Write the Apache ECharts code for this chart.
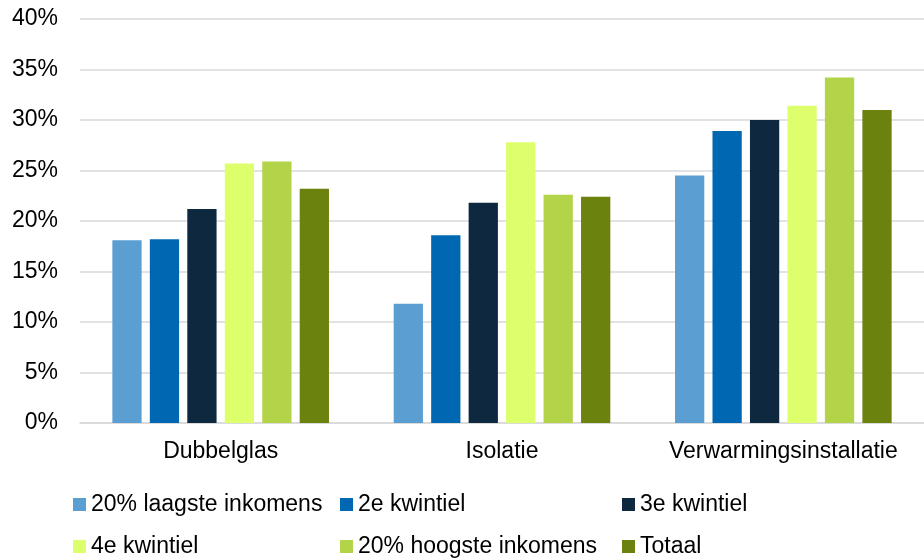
<!DOCTYPE html>
<html>
<head>
<meta charset="utf-8">
<script src="https://cdn.jsdelivr.net/npm/echarts@6/dist/echarts.min.js"></script>
<style>
html,body{margin:0;padding:0;background:#fff;}
#chart{width:924px;height:558px;}
</style>
</head>
<body>
<div id="chart"></div>
<script>
var categories = ['Dubbelglas', 'Isolatie', 'Verwarmingsinstallatie'];
var seriesNames = ['20% laagste inkomens', '2e kwintiel', '3e kwintiel', '4e kwintiel', '20% hoogste inkomens', 'Totaal'];
var laagste = [18.1, 11.8, 24.5];
var kwintiel2 = [18.2, 18.6, 28.9];
var kwintiel3 = [21.2, 21.8, 30.0];
var kwintiel4 = [25.7, 27.8, 31.4];
var hoogste = [25.9, 22.6, 34.2];
var totaal = [23.2, 22.4, 31.0];
var yTicks = [0, 5, 10, 15, 20, 25, 30, 35, 40];
var colors = ['#5B9FD2', '#0068B2', '#0E293F', '#DDFF6B', '#B3D349', '#6B820F'];

var values = [laagste, kwintiel2, kwintiel3, kwintiel4, hoogste, totaal];
var font = 'Liberation Sans, Arial, sans-serif';
var fs = 23;
var chart = echarts.init(document.getElementById('chart'));

function legendCol(left, names) {
  return {
    orient: 'vertical', left: left, top: 493,
    itemWidth: 13, itemHeight: 13, itemGap: 19, itemTextGap: 4,
    icon: 'rect', padding: 0,
    data: names,
    textStyle: { fontFamily: font, fontSize: fs, color: '#000' }
  };
}

chart.setOption({
  animation: false,
  color: colors,
  grid: { left: 80, right: -5, top: 19, bottom: 135 },
  legend: [
    legendCol(73, [seriesNames[0], seriesNames[3]]),
    legendCol(340, [seriesNames[1], seriesNames[4]]),
    legendCol(622, [seriesNames[2], seriesNames[5]])
  ],
  xAxis: {
    type: 'category',
    data: categories,
    axisTick: { show: false },
    axisLine: { lineStyle: { color: '#d9d9d9', width: 1.5 } },
    axisLabel: { fontFamily: font, fontSize: fs, color: '#000', margin: 17, interval: 0 }
  },
  yAxis: {
    type: 'value',
    min: yTicks[0], max: yTicks[yTicks.length - 1], interval: 5,
    axisLine: { show: false },
    axisTick: { show: false },
    splitLine: { lineStyle: { color: '#d9d9d9', width: 1.5 } },
    axisLabel: { fontFamily: font, fontSize: fs, color: '#000', margin: 22,
      formatter: function (v) { return v + '%'; } }
  },
  series: values.map(function (vals, i) {
    return {
      name: seriesNames[i],
      type: 'bar',
      data: vals,
      barGap: '28%',
      barCategoryGap: '23%',
      itemStyle: { color: colors[i] }
    };
  })
});
</script>
</body>
</html>
